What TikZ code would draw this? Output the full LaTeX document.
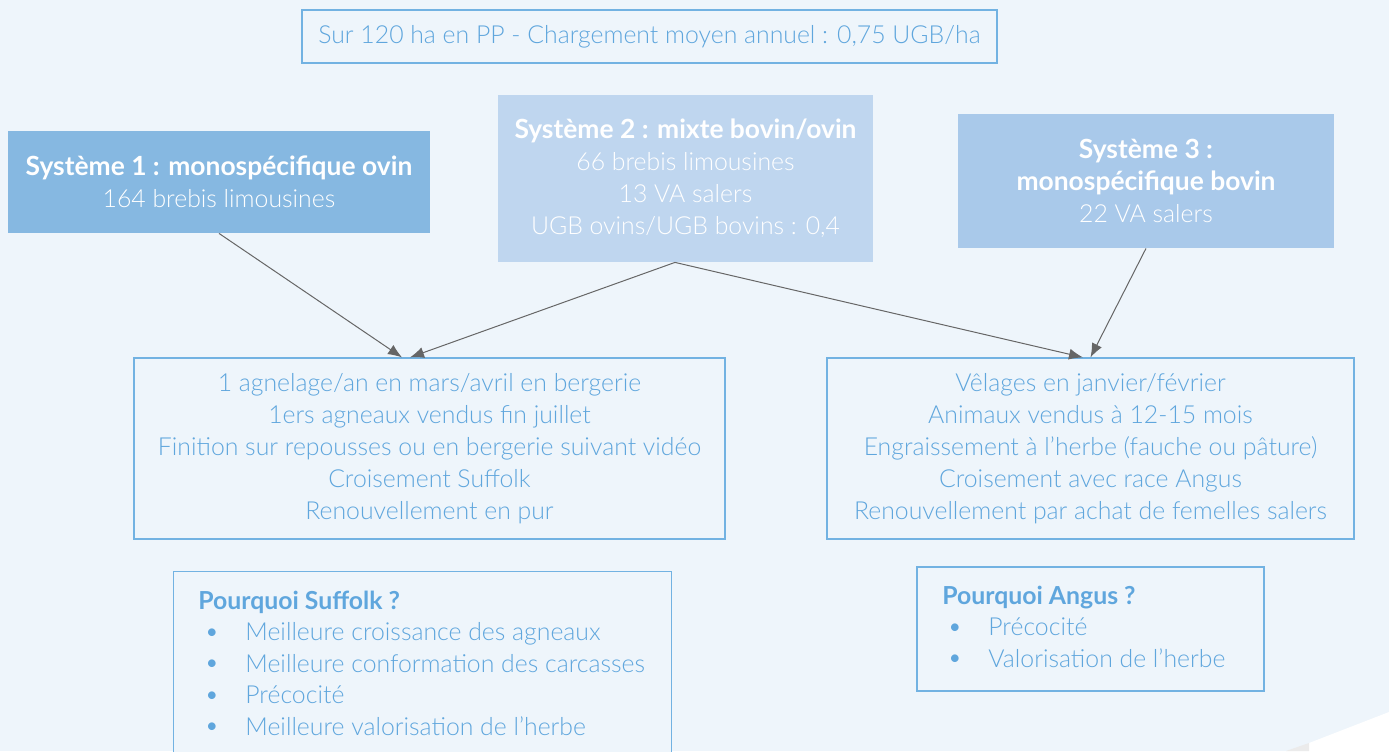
\documentclass[tikz,border=0pt]{standalone}
\usepackage{fontspec}
\setmainfont{Lato}[UprightFont={* Light}, BoldFont={* Bold}]
\usetikzlibrary{arrows.meta}
\definecolor{bg}{HTML}{EEF5FB}
\definecolor{ink}{HTML}{5FA6DD}
\definecolor{frame}{HTML}{72B2E2}
\definecolor{sysA}{HTML}{86B8E1}
\definecolor{sysB}{HTML}{BFD6EF}
\definecolor{sysC}{HTML}{A9C9EA}
\definecolor{link}{HTML}{666666}
\tikzset{
  sysbox/.style={inner sep=0pt, text=white, align=center,
    font=\fontsize{12.4}{16}\selectfont},
  infobox/.style={draw=frame, line width=0.6pt, fill=bg, inner sep=0pt,
    text=ink, align=center, font=\fontsize{12.4}{16}\selectfont},
  listtext/.style={inner sep=0pt, text=ink, align=left, anchor=west,
    font=\fontsize{12.4}{15.75}\selectfont},
  feed/.style={draw=link, line width=0.5pt, -{Latex[length=7pt,width=5.5pt]}}
}
\newcommand{\hd}[1]{{\fontsize{13.2}{16}\selectfont\bfseries #1}}
\newcommand{\dotmark}{\raisebox{0.2pt}{\scalebox{1.05}{\textbullet}}}
\newcommand{\itm}[2]{\hspace*{#1}\makebox[20.5pt][l]{\dotmark}#2}
\begin{document}
\begin{tikzpicture}[x=0.5pt,y=-0.5pt]
  \fill[bg] (0,0) rectangle (1389,751);
  \useasboundingbox (0,0) rectangle (1389,751);

  % page corner
  \fill[white] (1309,751) -- (1309,743) -- (1389,712) -- (1389,751) -- cycle;
  \fill[black!8] (1286,751) -- (1309,743) -- (1309,751) -- cycle;

  % headline
  \node[infobox, minimum width=347.5pt, minimum height=26.5pt] (top) at (649.5,36.5)
    {Sur 120 ha en PP - Chargement moyen annuel : 0,75 UGB/ha};

  % the three systems
  \node[sysbox, fill=sysA, minimum width=211pt, minimum height=51pt] (s1) at (219,182)
    {\hd{Système 1 : monospécifique ovin}\\164 brebis limousines};
  \node[sysbox, fill=sysB, minimum width=187.5pt, minimum height=83.5pt] (s2) at (685.5,178.5)
    {\hd{Système 2 : mixte bovin/ovin}\\66 brebis limousines\\13 VA salers\\UGB ovins/UGB bovins : 0,4};
  \node[sysbox, fill=sysC, minimum width=188pt, minimum height=67pt] (s3) at (1146,181)
    {\hd{Système 3 :}\\\hd{monospécifique bovin}\\22 VA salers};

  % practices
  \node[infobox, minimum width=295.5pt, minimum height=90.5pt] (ovin) at (429.5,448.5)
    {1 agnelage/an en mars/avril en bergerie\\1ers agneaux vendus fin juillet\\Finition sur repousses ou en bergerie suivant vidéo\\Croisement Suffolk\\Renouvellement en pur};
  \node[infobox, minimum width=263.5pt, minimum height=90.5pt] (bovin) at (1090.5,448.5)
    {Vêlages en janvier/février\\Animaux vendus à 12-15 mois\\Engraissement à l’herbe (fauche ou pâture)\\Croisement avec race Angus\\Renouvellement par achat de femelles salers};

  % reasons
  \node[infobox, anchor=north west, minimum width=249pt, minimum height=91pt] (suffolk) at (173,571) {};
  \node[listtext] (suffolktxt) at (198,663)
    {\textbf{Pourquoi Suffolk ?}\\
     \itm{3pt}{Meilleure croissance des agneaux}\\
     \itm{3pt}{Meilleure conformation des carcasses}\\
     \itm{3pt}{Précocité}\\
     \itm{3pt}{Meilleure valorisation de l’herbe}};
  \node[infobox, minimum width=173.5pt, minimum height=62pt] (angus) at (1090.5,629) {};
  \node[listtext] (angustxt) at (942,626.5)
    {\textbf{Pourquoi Angus ?}\\
     \itm{2.5pt}{Précocité}\\
     \itm{2.5pt}{Valorisation de l’herbe}};

  % connectors
  \coordinate (o1) at ([xshift=-13.75pt]ovin.north);
  \coordinate (o2) at ([xshift=-9.75pt]ovin.north);
  \coordinate (b1) at ([xshift=-3.75pt]bovin.north);
  \coordinate (b2) at ([xshift=0pt]bovin.north);
  \coordinate (s2out) at ([xshift=-5.25pt]s2.south);
  \draw[feed] (s1.south) -- (o1);
  \draw[feed] (s2out) -- (o2);
  \draw[feed] (s2out) -- (b1);
  \draw[feed] (s3.south) -- (b2);
\end{tikzpicture}
\end{document}
